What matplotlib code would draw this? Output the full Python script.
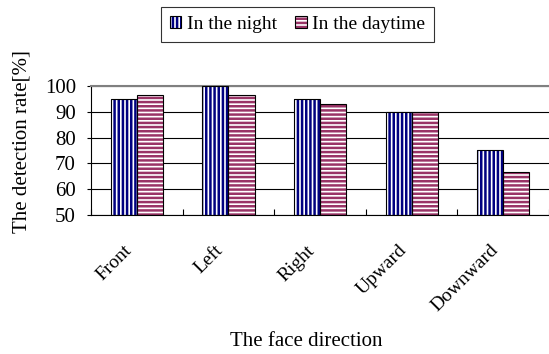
import matplotlib.pyplot as plt
import matplotlib.transforms as mtransforms
import numpy as np
from matplotlib.patches import Patch

# detection rate per face direction
directions = ['Front', 'Left', 'Right', 'Upward', 'Downward']
night = [95, 100, 95, 90, 75]
daytime = [96.5, 96.5, 93, 90, 66.7]

plt.rcParams['font.family'] = ['Liberation Serif', 'DejaVu Serif']
plt.rcParams['hatch.linewidth'] = 1.8

fig = plt.figure(figsize=(5.49, 3.54), dpi=100)
ax = fig.add_axes([0.166, 0.393, 0.834, 0.364])

x = np.arange(len(directions))
width = 0.285

# hatched fill first, black outline on top
ax.bar(x - width / 2, np.array(night) - 50, width, bottom=50, color='white',
       edgecolor='#000080', hatch='||||', linewidth=0, zorder=2)
ax.bar(x + width / 2, np.array(daytime) - 50, width, bottom=50, color='white',
       edgecolor='#993366', hatch='----', linewidth=0, zorder=2)
ax.bar(x - width / 2, np.array(night) - 50, width, bottom=50, fill=False,
       edgecolor='black', linewidth=0.8, zorder=3)
ax.bar(x + width / 2, np.array(daytime) - 50, width, bottom=50, fill=False,
       edgecolor='black', linewidth=0.8, zorder=3)

ax.set_xlim(-0.5, len(directions) - 0.5)
ax.set_ylim(50, 100)
ax.set_yticks([50, 60, 70, 80, 90, 100])
ax.yaxis.grid(True, color='black', linewidth=0.8)
ax.set_axisbelow(True)

# category ticks sit on the boundaries
ax.set_xticks(np.arange(len(directions) + 1) - 0.5)
ax.set_xticklabels([])
ax.tick_params(axis='x', direction='in', length=4, width=0.8)
ax.set_xticks(x, minor=True)
ax.set_xticklabels(directions, minor=True, rotation=45, ha='right',
                   rotation_mode='anchor', fontsize=14)
ax.tick_params(axis='x', which='minor', length=0, pad=5)
shift = mtransforms.ScaledTranslation(-0.14, -0.20, fig.dpi_scale_trans)
for lbl in ax.get_xticklabels(minor=True):
    lbl.set_transform(lbl.get_transform() + shift)
ax.tick_params(axis='y', direction='out', length=3, width=0.8, labelsize=15, pad=8)

ax.spines['right'].set_visible(False)
ax.spines['top'].set_color('#808080')
ax.spines['top'].set_linewidth(1.5)

fig.text(22 / 549, 1 - 142 / 354, 'The detection rate[%]', rotation=90,
         ha='center', va='center', fontsize=15)
fig.text(306 / 549, 1 - 342 / 354, 'The face direction', ha='center',
         va='center', fontsize=15)

h1 = Patch(facecolor='white', edgecolor='#000080', hatch='||||', linewidth=0)
h2 = Patch(facecolor='white', edgecolor='#993366', hatch='----', linewidth=0)
box = Patch(fill=False, edgecolor='black', linewidth=0.8)
leg = fig.legend([(h1, box), (h2, box)], ['In the night', 'In the daytime'],
                 loc='upper center', bbox_to_anchor=(0.542, 0.980), ncol=2,
                 fontsize=14, frameon=True, fancybox=False, edgecolor='black',
                 handlelength=0.6, handleheight=0.6, handletextpad=0.3,
                 columnspacing=0.9, borderpad=0.45, borderaxespad=0)
leg.get_frame().set_linewidth(0.8)

plt.savefig('out.png', dpi=100)
plt.close()
